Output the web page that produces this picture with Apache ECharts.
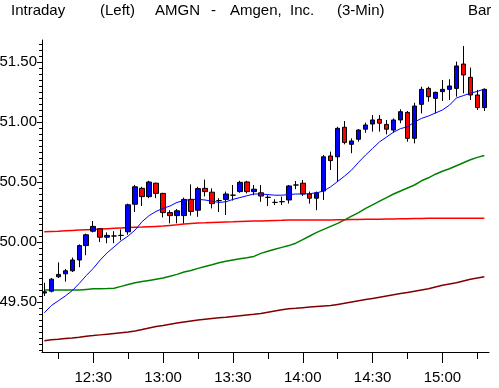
<!DOCTYPE html>
<html><head><meta charset="utf-8">
<script src="https://cdn.jsdelivr.net/npm/echarts@6/dist/echarts.min.js"></script>
<style>html,body{margin:0;padding:0;background:#fff}#c{width:499px;height:388px}</style>
</head><body><div id="c"></div>
<script>
// 3-minute bars, first bar 12:09
const firstBarMinute = 729;       // 12:09
const barStep = 3;
const axisStartMinute = 728;      // 12:08
const axisEndMinute = 920;        // 15:20
const tickLabels = ['12:30','13:00','13:30','14:00','14:30','15:00'];
const yLabels = [49.5, 50.0, 50.5, 51.0, 51.5];

const opens  = [49.575,49.59,49.71,49.735,49.76,49.85,49.97,50.09,50.11,50.04,50.05,50.055,50.085,50.315,50.447,50.378,50.49,50.405,50.245,50.22,50.22,50.355,50.265,50.447,50.415,50.345,50.355,50.39,50.42,50.50,50.42,50.41,50.372,50.33,50.336,50.35,50.475,50.49,50.40,50.365,50.425,50.717,50.71,50.956,50.814,50.856,50.94,50.983,51.022,50.98,50.933,51.017,51.08,50.864,51.147,51.28,51.197,51.253,51.272,51.28,51.483,51.372,51.225,51.12];
const closes = [49.585,49.69,49.73,49.76,49.85,49.97,50.06,50.13,50.04,50.055,50.05,50.055,50.31,50.46,50.378,50.50,50.405,50.245,50.22,50.26,50.355,50.255,50.445,50.42,50.32,50.345,50.40,50.39,50.497,50.42,50.44,50.383,50.372,50.33,50.336,50.467,50.475,50.40,50.365,50.41,50.71,50.678,50.947,50.83,50.842,50.933,50.975,51.017,50.99,50.94,51.017,51.086,50.864,51.133,51.272,51.211,51.247,51.272,51.30,51.467,51.392,51.225,51.12,51.272];
const highs  = [49.66,49.70,49.83,49.775,49.87,49.98,50.07,50.175,50.115,50.08,50.09,50.105,50.32,50.475,50.46,50.51,50.495,50.41,50.265,50.275,50.37,50.48,50.46,50.52,50.447,50.365,50.42,50.475,50.51,50.51,50.475,50.475,50.39,50.356,50.378,50.475,50.508,50.517,50.42,50.42,50.725,50.753,50.96,51.008,50.864,50.94,50.995,51.058,51.058,51.017,51.03,51.106,51.092,51.16,51.294,51.294,51.253,51.35,51.356,51.503,51.633,51.453,51.267,51.28];
const lows   = [49.55,49.58,49.70,49.67,49.75,49.79,49.89,50.08,50.00,49.99,49.99,50.015,50.06,50.25,50.30,50.365,50.365,50.205,50.155,50.155,50.155,50.22,50.21,50.38,50.28,50.25,50.225,50.345,50.41,50.405,50.39,50.335,50.30,50.308,50.308,50.32,50.44,50.383,50.32,50.265,50.35,50.60,50.50,50.814,50.74,50.836,50.91,50.92,50.92,50.897,50.91,50.99,50.836,50.822,51.072,51.169,51.072,51.175,51.183,51.211,51.239,51.183,51.10,51.092];

const maBlue = [49.41,49.47,49.51,49.55,49.595,49.655,49.72,49.78,49.85,49.91,49.96,50.01,50.05,50.10,50.17,50.22,50.255,50.28,50.30,50.33,50.345,50.355,50.355,50.35,50.34,50.33,50.335,50.355,50.37,50.385,50.40,50.40,50.395,50.39,50.39,50.395,50.40,50.40,50.403,50.41,50.425,50.46,50.505,50.55,50.60,50.665,50.725,50.78,50.835,50.875,50.915,50.945,50.96,51.0,51.03,51.05,51.075,51.10,51.14,51.20,51.22,51.24,51.255,51.275];
const maRed = [50.085,50.088,50.09,50.093,50.096,50.099,50.102,50.105,50.108,50.111,50.114,50.117,50.12,50.122,50.124,50.127,50.13,50.133,50.138,50.143,50.15,50.155,50.158,50.16,50.163,50.165,50.167,50.168,50.17,50.172,50.174,50.176,50.178,50.18,50.181,50.183,50.183,50.183,50.183,50.183,50.183,50.184,50.185,50.186,50.187,50.188,50.189,50.19,50.19,50.191,50.192,50.193,50.194,50.195,50.196,50.197,50.197,50.197,50.197,50.197,50.197,50.197,50.197,50.197];
const maGreen = [49.60,49.60,49.60,49.60,49.60,49.60,49.605,49.61,49.61,49.612,49.615,49.63,49.645,49.66,49.67,49.68,49.69,49.70,49.715,49.73,49.75,49.763,49.78,49.795,49.81,49.827,49.84,49.85,49.86,49.868,49.88,49.905,49.923,49.94,49.955,49.97,49.99,50.02,50.05,50.08,50.105,50.13,50.155,50.185,50.215,50.245,50.28,50.31,50.34,50.37,50.40,50.425,50.45,50.475,50.51,50.535,50.565,50.59,50.61,50.635,50.66,50.685,50.705,50.72];
const maDarkRed = [49.178,49.185,49.19,49.196,49.20,49.206,49.215,49.22,49.226,49.232,49.238,49.244,49.25,49.258,49.27,49.283,49.296,49.305,49.315,49.324,49.333,49.342,49.35,49.356,49.362,49.368,49.373,49.38,49.386,49.392,49.398,49.405,49.415,49.425,49.435,49.444,49.448,49.453,49.458,49.462,49.466,49.47,49.48,49.49,49.50,49.51,49.52,49.53,49.54,49.55,49.56,49.57,49.58,49.59,49.60,49.61,49.625,49.64,49.65,49.66,49.675,49.69,49.70,49.71];

function fmt(m){const h=Math.floor(m/60), mm=m%60; return h+':'+(mm<10?'0':'')+mm;}
const categories=[], minutes=[];
for(let m=axisStartMinute;m<=axisEndMinute;m++){categories.push(fmt(m));minutes.push(m);}
const N=categories.length;
const candle=new Array(N).fill('-');
const lineB=new Array(N).fill('-'), lineR=new Array(N).fill('-'), lineG=new Array(N).fill('-'), lineD=new Array(N).fill('-');
for(let k=0;k<opens.length;k++){
  const idx=firstBarMinute+k*barStep-axisStartMinute;
  candle[idx]=[opens[k],closes[k],lows[k],highs[k]];
  lineB[idx]=maBlue[k]; lineR[idx]=maRed[k]; lineG[idx]=maGreen[k]; lineD[idx]=maDarkRed[k];
}
const minorY=[]; for(let i=0;i<=52;i++){const v=Math.round((49.1+i*0.05)*100)/100; if(v<51.69) minorY.push(v);}
const yMin=49.0833, yMax=51.6833;
const F="'Liberation Sans',Arial,sans-serif";
const ts={fontSize:15,fontWeight:'normal',fontFamily:F,color:'#000'};

const chart=echarts.init(document.getElementById('c'),null,{renderer:'canvas'});
chart.setOption({
  animation:false,
  backgroundColor:'#fff',
  title:[
    {text:'Intraday',left:11,top:3,padding:0,textStyle:ts},
    {text:'(Left)',left:100,top:3,padding:0,textStyle:ts},
    {text:'AMGN',left:155,top:3,padding:0,textStyle:ts},
    {text:'-',left:211,top:3,padding:0,textStyle:ts},
    {text:'Amgen,',left:230,top:3,padding:0,textStyle:ts},
    {text:'Inc.',left:290,top:3,padding:0,textStyle:ts},
    {text:'(3-Min)',left:337,top:3,padding:0,textStyle:ts},
    {text:'Bar',left:468,top:3,padding:0,textStyle:ts}
  ],
  grid:{left:42,top:40,right:10,bottom:36,containLabel:false,outerBoundsMode:'none'},
  xAxis:[
    {type:'category',data:categories,boundaryGap:false,
     axisLine:{lineStyle:{color:'#000',width:1}},
     axisTick:{length:11,lineStyle:{color:'#000'},interval:(i)=>minutes[i]%30===0},
     axisLabel:{interval:(i,v)=>tickLabels.indexOf(v)>=0,color:'#000',fontSize:15,fontFamily:F,margin:18},
     splitLine:{show:false}},
    {type:'category',data:categories,boundaryGap:false,position:'bottom',
     axisLine:{show:false},
     axisTick:{length:7,lineStyle:{color:'#000'},interval:(i)=>minutes[i]%15===0},
     axisLabel:{show:false},splitLine:{show:false}}
  ],
  yAxis:[
    {type:'value',min:yMin,max:yMax,position:'left',
     axisLine:{show:true,lineStyle:{color:'#000'}},
     axisTick:{show:true,length:5,lineStyle:{color:'#000'},customValues:yLabels},
     axisLabel:{customValues:yLabels,formatter:(v)=>v.toFixed(2),color:'#000',fontSize:15,fontFamily:F,margin:5},
     splitLine:{show:false}},
    {type:'value',min:yMin,max:yMax,position:'left',offset:0,
     axisLine:{show:false},
     axisTick:{show:true,length:3,lineStyle:{color:'#000'},customValues:minorY},
     axisLabel:{show:false,customValues:minorY},splitLine:{show:false}}
  ],
  series:[
    {type:'line',data:lineD,connectNulls:true,showSymbol:false,lineStyle:{color:'#800000',width:1.5},z:2},
    {type:'line',data:lineG,connectNulls:true,showSymbol:false,lineStyle:{color:'#008000',width:1.5},z:2},
    {type:'line',data:lineR,connectNulls:true,showSymbol:false,lineStyle:{color:'#ff0000',width:1.5},z:2},
    {type:'candlestick',data:candle,barWidth:5,z:3,
     itemStyle:{color:'#0000ff',color0:'#ff0000',borderColor:'#000',borderColor0:'#000',borderColorDoji:'#000',borderWidth:1}},
    {type:'line',data:lineB,connectNulls:true,showSymbol:false,lineStyle:{color:'#0000ff',width:1},z:4}
  ]
});
</script></body></html>
